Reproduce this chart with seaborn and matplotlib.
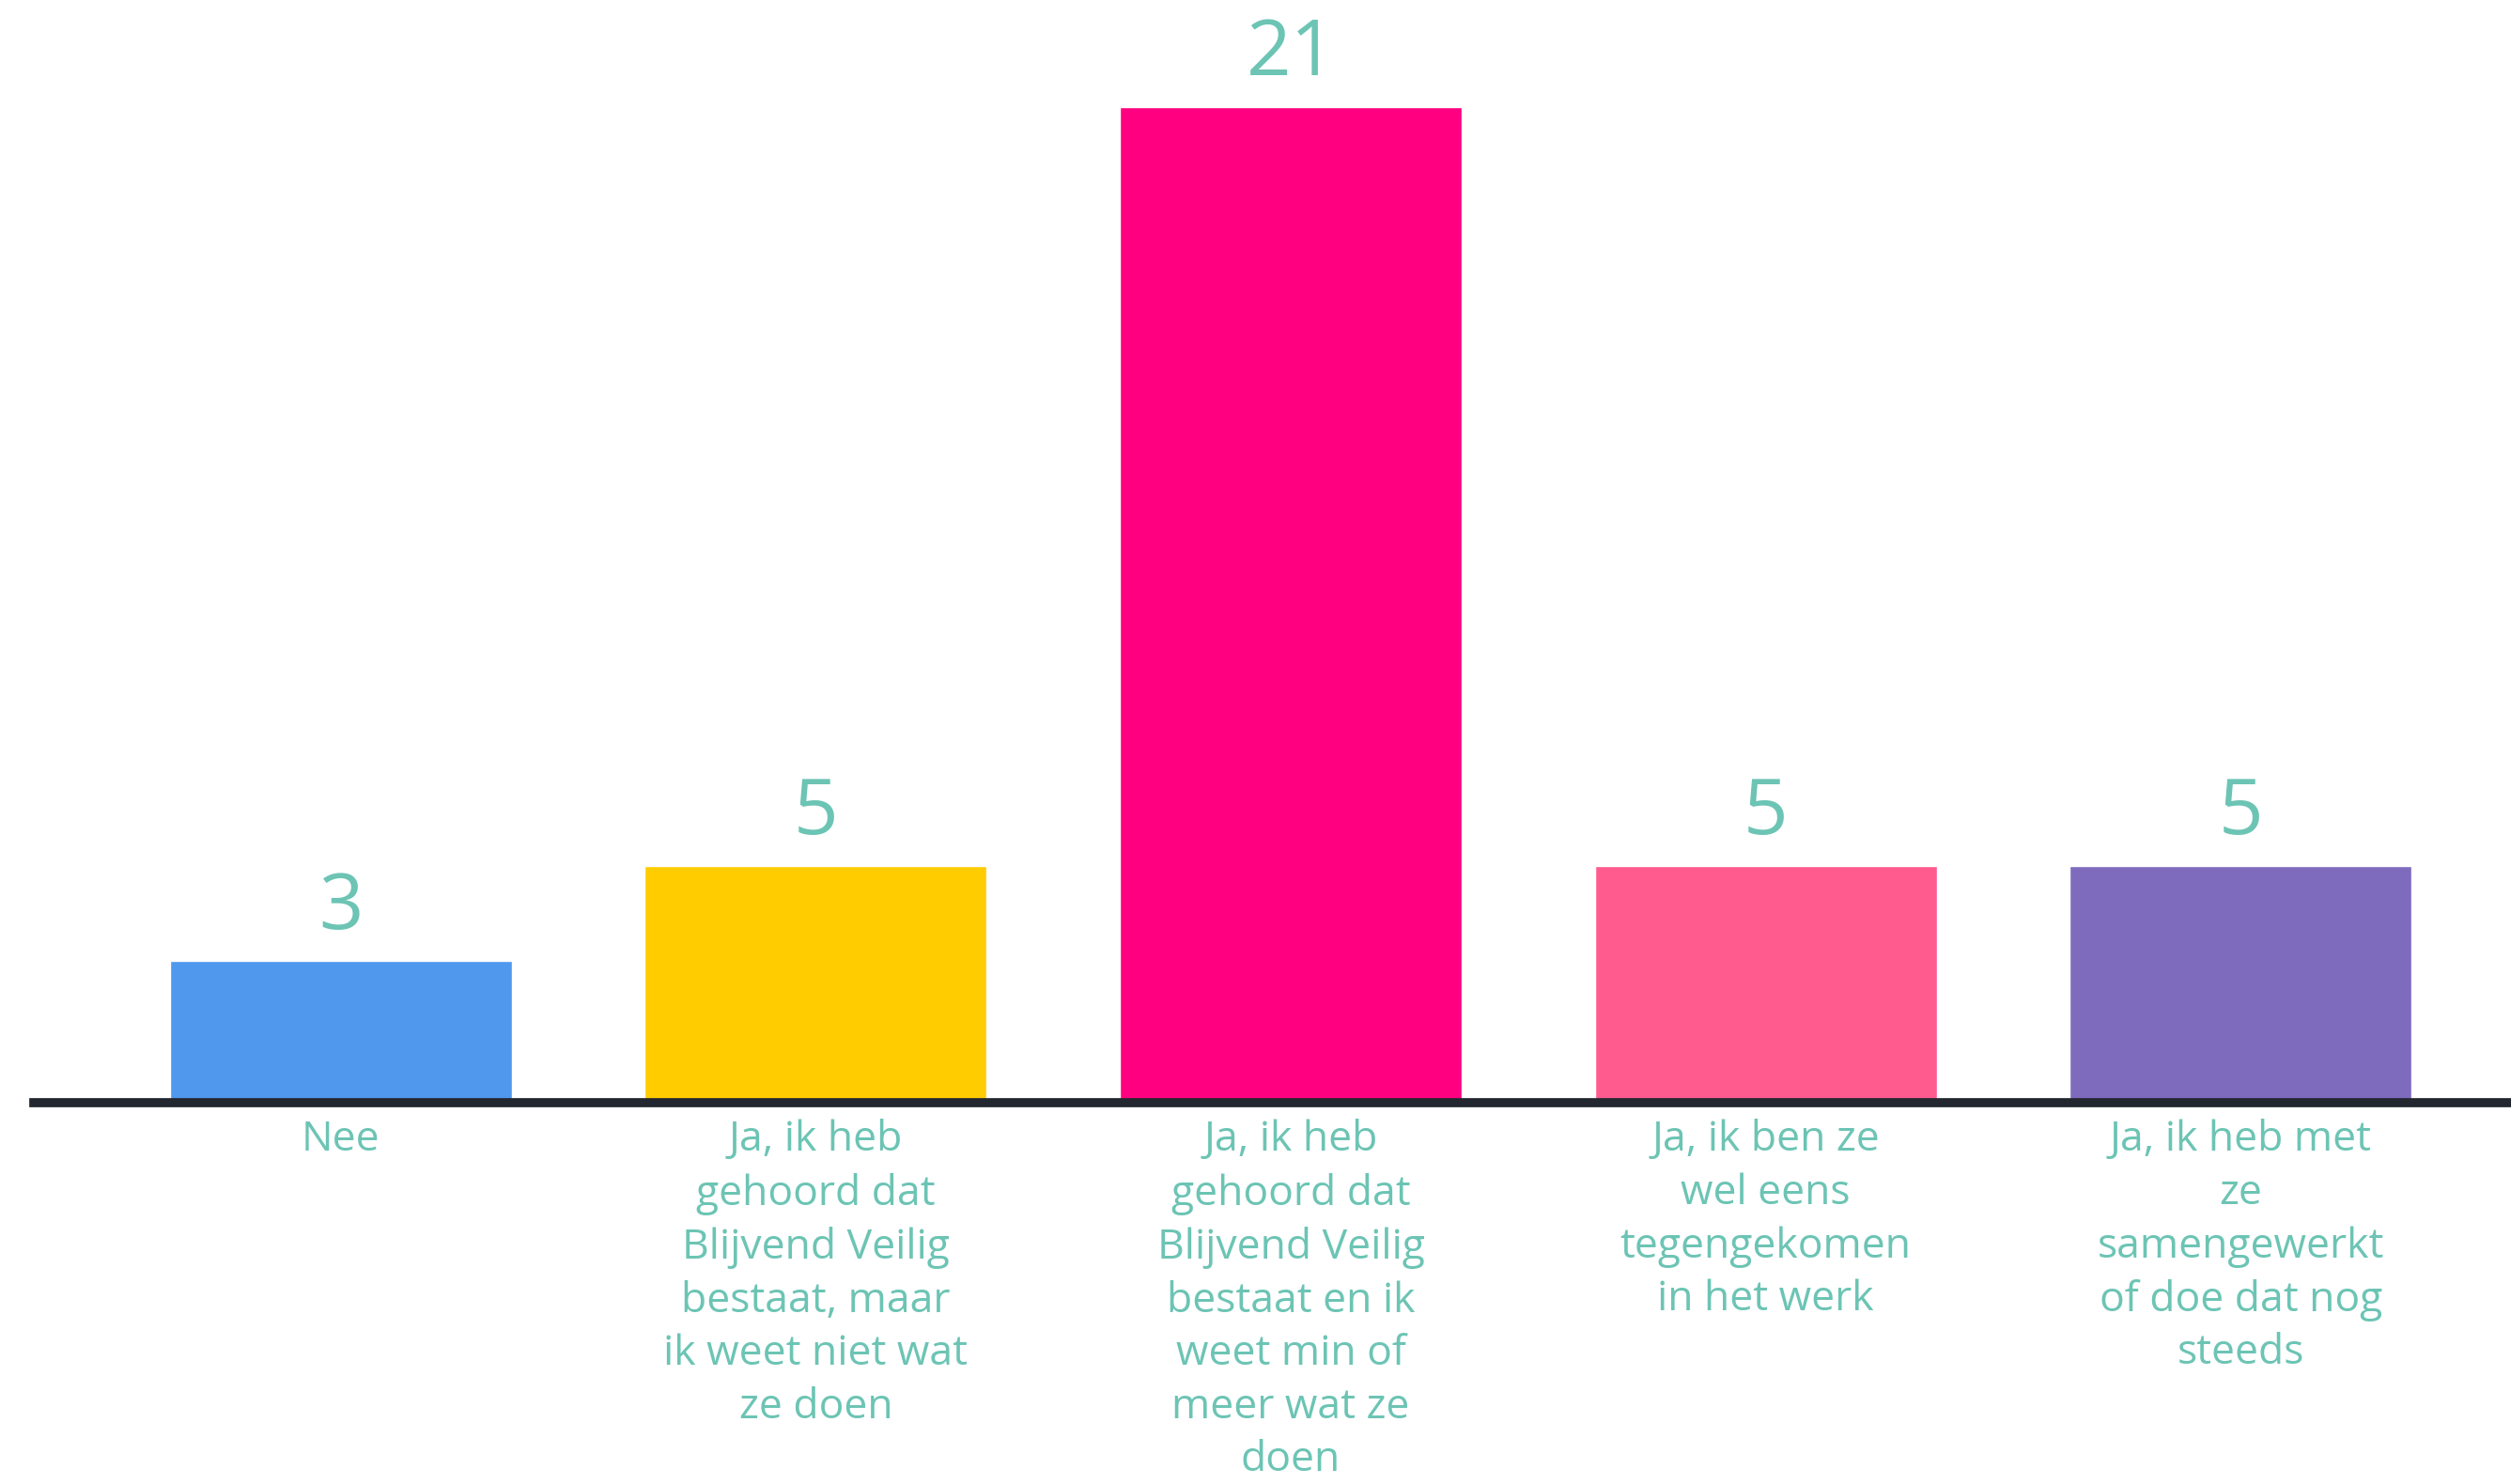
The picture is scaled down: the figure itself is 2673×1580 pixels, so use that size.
import matplotlib.pyplot as plt
import pandas as pd
import seaborn as sns

categories = [
    "Nee",
    "Ja, ik heb\ngehoord dat\nBlijvend Veilig\nbestaat, maar\nik weet niet wat\nze doen",
    "Ja, ik heb\ngehoord dat\nBlijvend Veilig\nbestaat en ik\nweet min of\nmeer wat ze\ndoen",
    "Ja, ik ben ze\nwel eens\ntegengekomen\nin het werk",
    "Ja, ik heb met\nze\nsamengewerkt\nof doe dat nog\nsteeds",
]
counts = [3, 5, 21, 5, 5]
bar_colors = ["#4F98EE", "#FFCC00", "#FF0080", "#FF5B8F", "#7F6BBE"]

TEXT_COLOR = "#6CC4B4"
AXIS_COLOR = "#23272F"


def main():
    sns.set_theme(style="white")
    plt.rcParams["font.family"] = ["Open Sans", "DejaVu Sans"]

    df = pd.DataFrame({"answer": categories, "count": counts})

    fig = plt.figure(figsize=(26.73, 15.80), dpi=100)
    ax = fig.add_axes([0.0135, 0.2570, 0.9865, 0.7362])

    sns.barplot(
        data=df,
        x="answer",
        y="count",
        hue="answer",
        palette=bar_colors,
        width=0.72,
        legend=False,
        saturation=1,
        ax=ax,
    )

    for container in ax.containers:
        ax.bar_label(container, padding=10, fontsize=60, color=TEXT_COLOR)

    ax.set_xlim(-0.646, 4.569)
    ax.set_ylim(0, 23.05)
    ax.set_xlabel("")
    ax.set_ylabel("")
    ax.set_yticks([])

    for side in ["top", "right", "left"]:
        ax.spines[side].set_visible(False)
    ax.spines["bottom"].set_color(AXIS_COLOR)
    ax.spines["bottom"].set_linewidth(7)

    ax.tick_params(axis="x", length=0, pad=13)
    for lbl in ax.get_xticklabels():
        lbl.set_fontsize(32)
        lbl.set_color(TEXT_COLOR)
        lbl.set_linespacing(1.36)
        lbl.set_va("top")

    fig.savefig("out.png", dpi=100, facecolor="white")
    plt.close(fig)


if __name__ == "__main__":
    main()
